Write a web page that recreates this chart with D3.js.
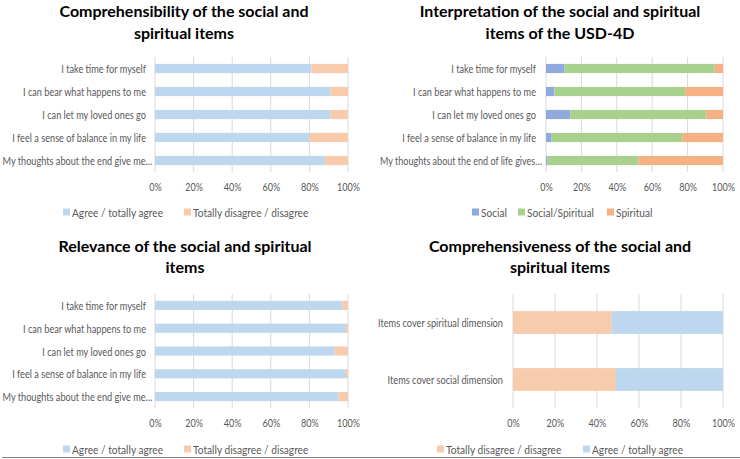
<!DOCTYPE html>
<html><head><meta charset="utf-8">
<script src="https://cdn.jsdelivr.net/npm/d3@7"></script>
<style>
body{margin:0;background:#fff;}
svg{display:block;font-family:Lato,"Open Sans",sans-serif;}
</style></head><body>
<svg id="c" width="740" height="459"></svg>
<script>
// ---------- DATA ----------
const itemsA = ["I take time for myself","I can bear what happens to me","I can let my loved ones go","I feel a sense of balance in my life","My thoughts about the end give me…"];
const itemsB = ["I take time for myself","I can bear what happens to me","I can let my loved ones go","I feel a sense of balance in my life","My thoughts about the end of life gives…"];
const itemsD = ["Items cover spiritual dimension","Items cover social dimension"];

const comprehAgree    = [81, 91, 91, 80, 88];
const comprehDisagree = [19, 9, 9, 20, 12];

const interpSocial    = [10.5, 4.7, 13.7, 3.2, 0.9];
const interpSocSpir   = [84.8, 73.9, 76.9, 73.7, 51.3];
const interpSpiritual = [4.7, 21.4, 9.4, 23.1, 47.8];

const relevAgree    = [97, 99, 93, 99, 95];
const relevDisagree = [3, 1, 7, 1, 5];

const compDisagree = [47, 49];
const compAgree    = [53, 51];

const tickValues = [0, 0.2, 0.4, 0.6, 0.8, 1];

const titles = [
  ["Comprehensibility of the social and","spiritual items"],
  ["Interpretation of the social and spiritual","items of the USD-4D"],
  ["Relevance of the social and spiritual","items"],
  ["Comprehensiveness of the social and","spiritual items"]
];

const C = {blue:"#BDD7EE", peach:"#F8CBAD", social:"#8FAADC", socspir:"#A9D18E", spir:"#F4B183"};

// ---------- DRAW ----------
const svg = d3.select("#c");

function condense(sel, factor){
  sel.each(function(){
    const w = this.getComputedTextLength();
    if (w > 0) d3.select(this).attr("textLength", w*factor).attr("lengthAdjust","spacingAndGlyphs");
  });
}
function measure(str, size, weight){
  const t = svg.append("text").attr("font-size",size).attr("font-weight",weight||"normal").text(str);
  const w = t.node().getComputedTextLength(); t.remove(); return w;
}
const labelF  = 123/measure("I can bear what happens to me", 11);
const labelF4 = 125/measure("Items cover spiritual dimension", 10.6);
const tickF   = 23/measure("100%", 11.5);
const legF    = 91/measure("Agree / totally agree", 11.5);

function panel(cfg){
  const g = svg.append("g");
  cfg.title.forEach((t,i)=>{
    g.append("text").attr("x",cfg.titleX).attr("y",cfg.titleY[i])
      .attr("text-anchor","middle").attr("dominant-baseline","central")
      .attr("font-weight","bold").attr("font-size",16).attr("fill","#000").text(t);
  });
  const x = d3.scaleLinear().domain([0,1]).range([cfg.x0,cfg.x1]);
  const y = d3.scaleBand().domain(cfg.cats).range([cfg.yTop,cfg.yBot]).paddingInner(cfg.pad).paddingOuter(cfg.pad/2);
  g.append("g").selectAll("line").data(tickValues).join("line")
    .attr("x1",d=>x(d)).attr("x2",d=>x(d)).attr("y1",cfg.yTop).attr("y2",cfg.yBot)
    .attr("stroke","#d9d9d9").attr("stroke-width",1);
  const rows = cfg.cats.map((c,i)=>{const o={cat:c}; cfg.series.forEach(s=>o[s.key]=s.values[i]); return o;});
  const totals = rows.map(r=>d3.sum(cfg.series,s=>r[s.key]));
  const normRows = rows.map((r,i)=>{const o={cat:r.cat}; cfg.series.forEach(s=>o[s.key]=r[s.key]/totals[i]); return o;});
  const stack = d3.stack().keys(cfg.series.map(s=>s.key))(normRows);
  stack.forEach((layer,li)=>{
    g.append("g").selectAll("rect").data(layer).join("rect")
      .attr("x",d=>x(d[0])).attr("width",d=>x(d[1])-x(d[0]))
      .attr("y",d=>y(d.data.cat)).attr("height",y.bandwidth())
      .attr("fill",cfg.series[li].color);
  });
  const lab = g.append("g").selectAll("text").data(cfg.cats).join("text")
    .attr("x",d=>cfg.x0-(d.endsWith("…")?cfg.ellGap:cfg.labelGap)).attr("y",d=>y(d)+y.bandwidth()/2)
    .attr("text-anchor","end").attr("dominant-baseline","central")
    .attr("font-size",cfg.labelSize).attr("fill","#595959").text(d=>d);
  lab.each(function(d){
    if (d.endsWith("…")) d3.select(this).attr("textLength",cfg.ellW).attr("lengthAdjust","spacingAndGlyphs");
    else condense(d3.select(this), cfg.labelF);
  });
  const ax = g.append("g").attr("transform",`translate(0,${cfg.tickY})`)
    .call(d3.axisBottom(x).tickValues(tickValues).tickFormat(d3.format(".0%")).tickSize(0).tickPadding(0));
  ax.select(".domain").remove();
  const tt = ax.selectAll("text").attr("font-size",11.5).attr("fill","#595959").attr("font-family","Lato,sans-serif").attr("dy","0.32em").attr("y",0);
  condense(tt, tickF);
  cfg.series.forEach((s,i)=>{
    const lx = cfg.legendX[i];
    g.append("rect").attr("x",lx).attr("y",cfg.legendY-3.5).attr("width",7).attr("height",7).attr("fill",s.color);
    const lt = g.append("text").attr("x",lx+9).attr("y",cfg.legendY).attr("dominant-baseline","central")
      .attr("font-size",11.5).attr("fill","#595959").text(s.name);
    condense(lt, legF);
  });
}

panel({title:titles[0], titleX:184, titleY:[10,32], cats:itemsA,
  x0:155, x1:348, yTop:57, yBot:172, pad:0.6, labelGap:9, ellGap:2.5, ellW:150, labelSize:11, labelF:labelF, tickY:187,
  legendY:212, legendX:[63,184],
  series:[{key:"a",name:"Agree / totally agree",values:comprehAgree,color:C.blue},
          {key:"d",name:"Totally disagree / disagree",values:comprehDisagree,color:C.peach}]});

panel({title:titles[1], titleX:560, titleY:[10,32], cats:itemsB,
  x0:546, x1:723, yTop:57, yBot:172, pad:0.6, labelGap:10, ellGap:4, ellW:162, labelSize:11, labelF:labelF, tickY:187,
  legendY:212, legendX:[472,518,607],
  series:[{key:"s",name:"Social",values:interpSocial,color:C.social},
          {key:"ss",name:"Social/Spiritual",values:interpSocSpir,color:C.socspir},
          {key:"sp",name:"Spiritual",values:interpSpiritual,color:C.spir}]});

panel({title:titles[2], titleX:185, titleY:[245,266], cats:itemsA,
  x0:155, x1:348, yTop:294, yBot:408, pad:0.6, labelGap:9, ellGap:2.5, ellW:150, labelSize:11, labelF:labelF, tickY:423,
  legendY:449, legendX:[63,184],
  series:[{key:"a",name:"Agree / totally agree",values:relevAgree,color:C.blue},
          {key:"d",name:"Totally disagree / disagree",values:relevDisagree,color:C.peach}]});

panel({title:titles[3], titleX:560, titleY:[245,266], cats:itemsD,
  x0:513, x1:723, yTop:294, yBot:408, pad:0.6, labelGap:10, ellGap:4, ellW:150, labelSize:10.6, labelF:labelF4, tickY:423,
  legendY:449, legendX:[437,583],
  series:[{key:"d",name:"Totally disagree / disagree",values:compDisagree,color:C.peach},
          {key:"a",name:"Agree / totally agree",values:compAgree,color:C.blue}]});

svg.append("line").attr("x1",2).attr("x2",740).attr("y1",457.5).attr("y2",457.5).attr("stroke","#808080").attr("stroke-width",1);
</script>
</body></html>
